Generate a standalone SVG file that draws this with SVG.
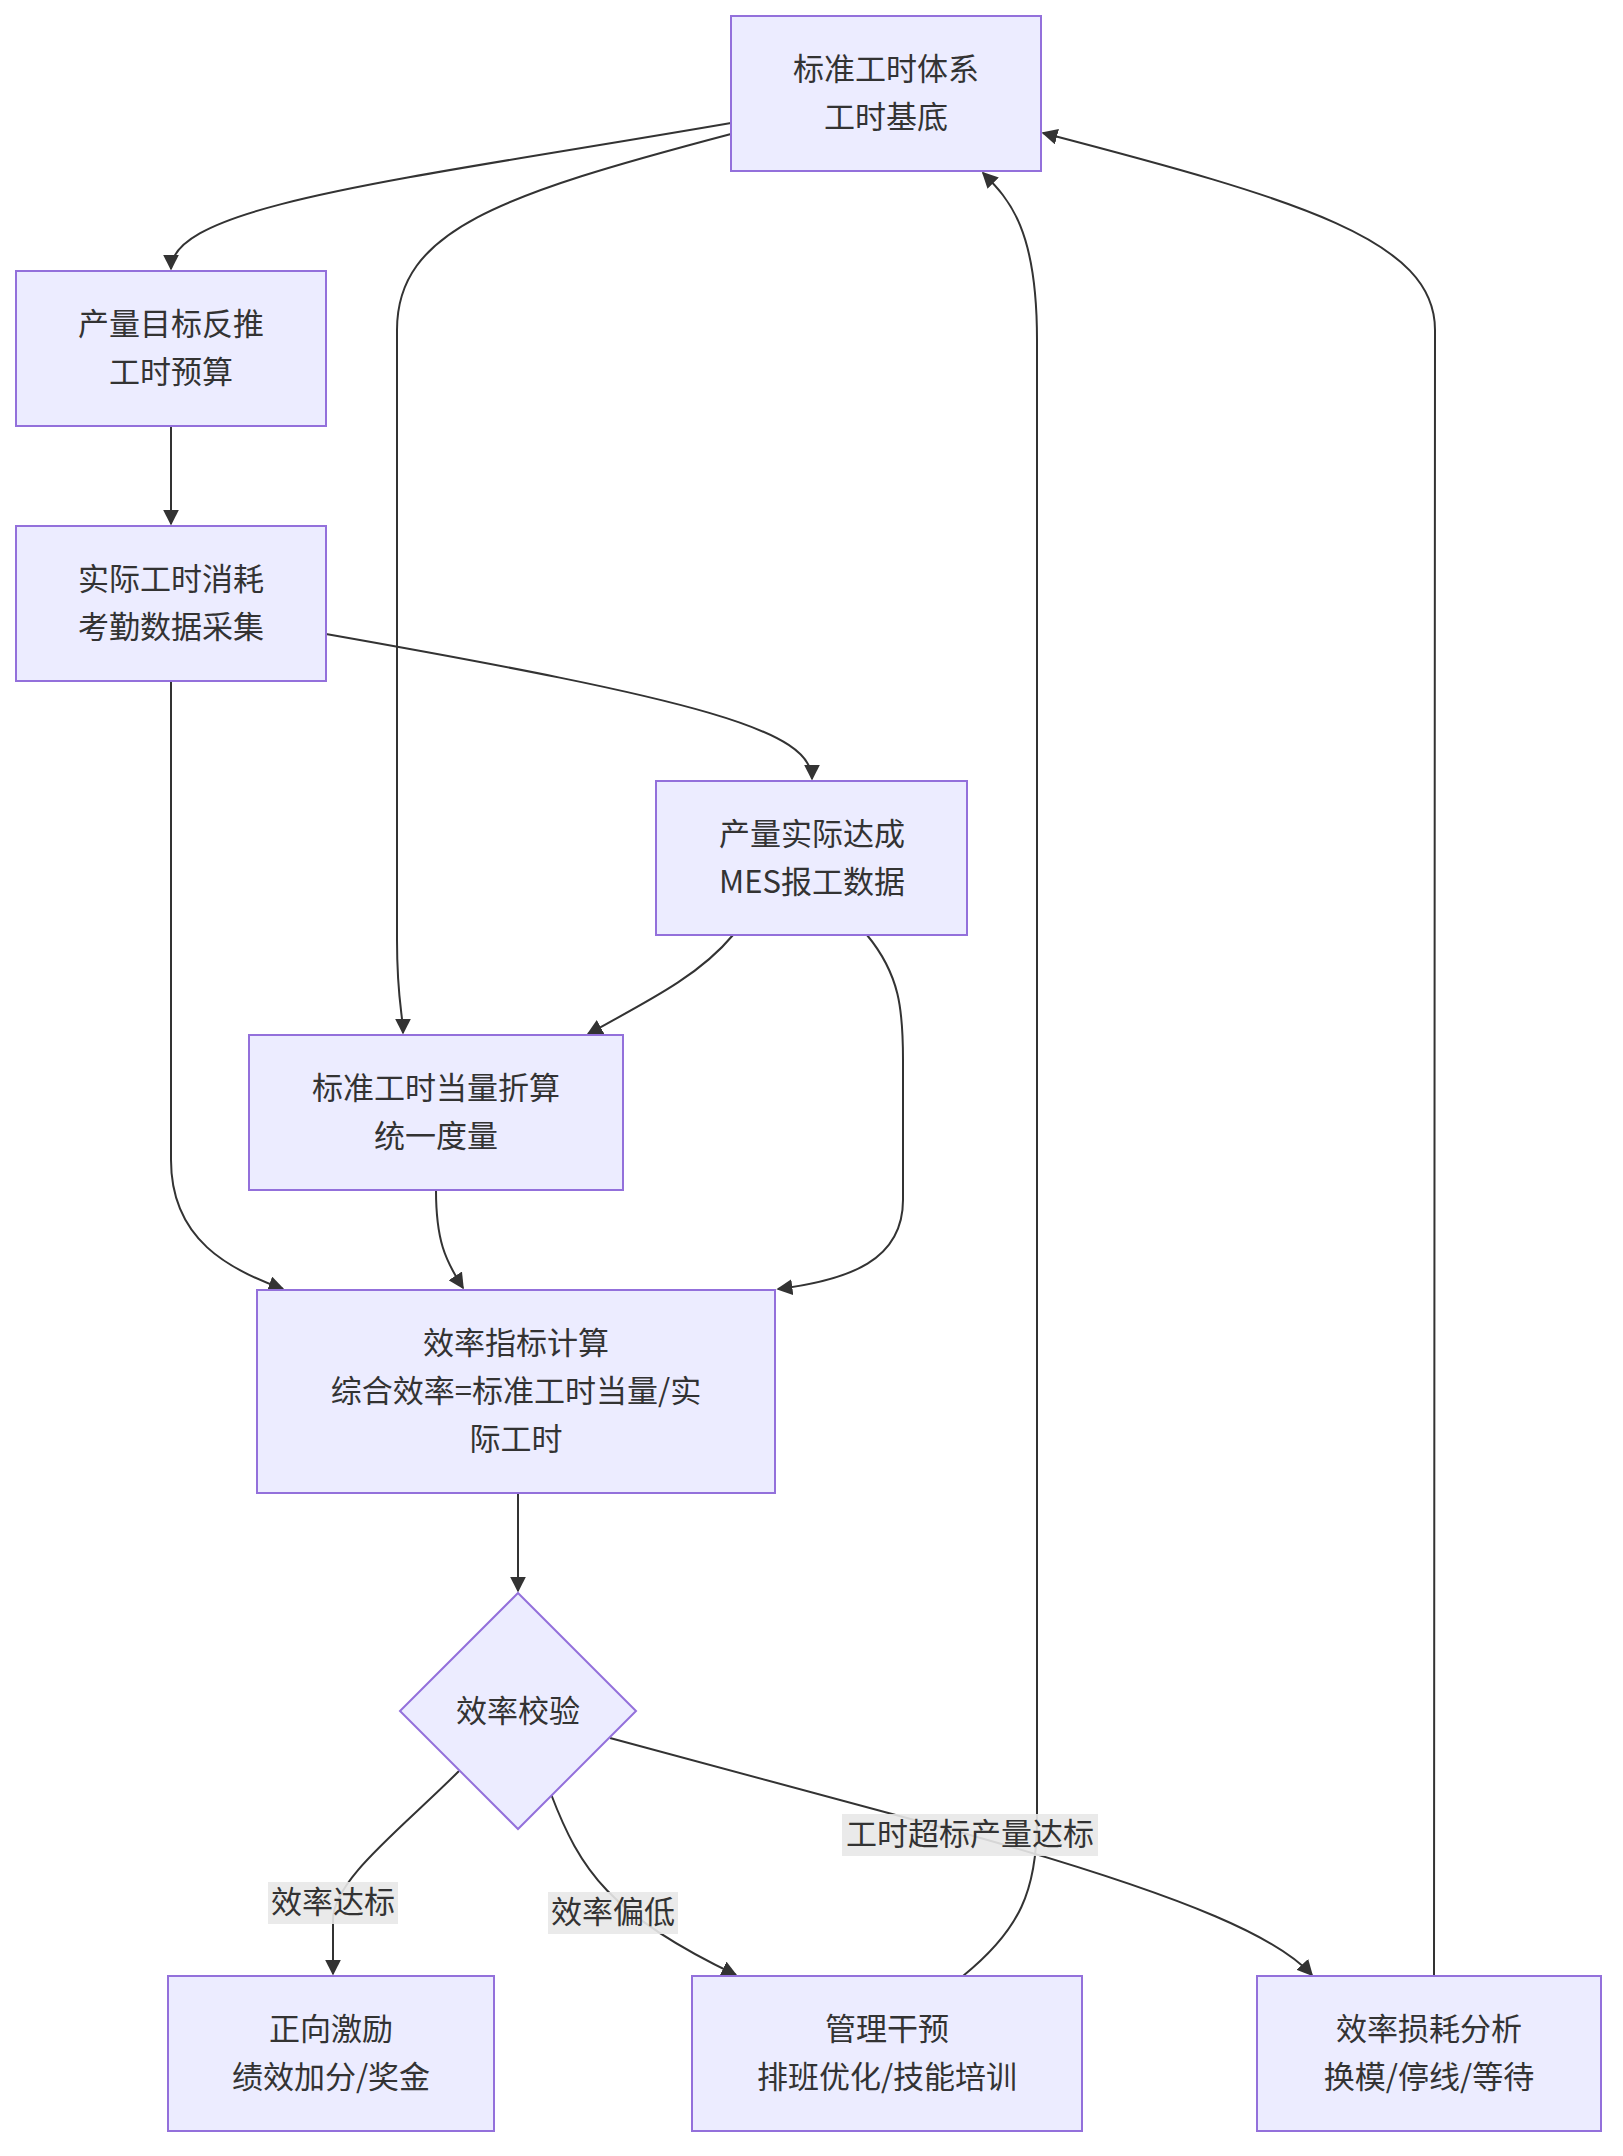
<svg xmlns="http://www.w3.org/2000/svg" width="1623" height="2156" viewBox="0 0 1623 2156">
<style>
.n{fill:#ECECFF;stroke:#9370DB;stroke-width:2}
.t{font-family:"Noto Sans CJK SC","Liberation Sans",sans-serif;font-size:31px;fill:#333;text-anchor:middle}
.e{fill:none;stroke:#333;stroke-width:2;marker-end:url(#a)}
.lb{fill:#e8e8e8;opacity:0.9}
</style>
<defs><marker id="a" viewBox="0 0 10 10" refX="9" refY="5" markerWidth="8" markerHeight="8" orient="auto"><path d="M0,0L10,5L0,10z" fill="#333"/></marker></defs>
<rect width="1623" height="2156" fill="#fff"/>
<g id="edges">
<path class="e" d="M731,123 C400,180 171,205 171,269"/>
<path class="e" d="M731,134 C500,195 397,230 397,330 L397,940 C397,1000 403,1015 403,1033"/>
<path class="e" d="M171,426 L171,524"/>
<path class="e" d="M326,634 C700,700 812,730 812,779"/>
<path class="e" d="M171,681 L171,1160 C171,1240 230,1270 283,1289"/>
<path class="e" d="M733,935 C700,975 650,1000 588,1034"/>
<path class="e" d="M867,935 C900,975 903,1010 903,1060 L903,1200 C903,1260 850,1280 778,1289"/>
<path class="e" d="M436,1190 C436,1240 445,1260 463,1288"/>
<path class="e" d="M518,1493 L518,1591"/>
<path class="e" d="M459,1771 C400,1830 333,1880 333,1920 L333,1974"/>
<path class="e" d="M551,1794 C580,1870 610,1915 736,1975"/>
<path class="e" d="M610,1738 L970,1835 C1200,1900 1280,1940 1312,1975"/>
<path class="e" d="M963,1976 C1020,1930 1037,1890 1037,1820 L1037,340 C1037,230 1010,200 983,173"/>
<path class="e" d="M1434,1976 L1435,330 C1435,240 1300,200 1043,133"/>
</g>
<g id="labels">
<rect class="lb" x="268" y="1882" width="130" height="42"/><text class="t" x="333" y="1913">效率达标</text>
<rect class="lb" x="548" y="1892" width="130" height="42"/><text class="t" x="613" y="1923">效率偏低</text>
<rect class="lb" x="842" y="1814" width="256" height="42"/><text class="t" x="970" y="1845">工时超标产量达标</text>
</g>
<g id="n1"><rect class="n" x="731" y="16" width="310" height="155"/><text class="t" x="886" y="80">标准工时体系</text><text class="t" x="886" y="128">工时基底</text></g>
<g id="n2"><rect class="n" x="16" y="271" width="310" height="155"/><text class="t" x="171" y="335">产量目标反推</text><text class="t" x="171" y="383">工时预算</text></g>
<g id="n3"><rect class="n" x="16" y="526" width="310" height="155"/><text class="t" x="171" y="590">实际工时消耗</text><text class="t" x="171" y="638">考勤数据采集</text></g>
<g id="n4"><rect class="n" x="656" y="781" width="311" height="154"/><text class="t" x="812" y="845">产量实际达成</text><text class="t" x="812" y="893">MES报工数据</text></g>
<g id="n5"><rect class="n" x="249" y="1035" width="374" height="155"/><text class="t" x="436" y="1099">标准工时当量折算</text><text class="t" x="436" y="1147">统一度量</text></g>
<g id="n6"><rect class="n" x="257" y="1290" width="518" height="203"/><text class="t" x="516" y="1354">效率指标计算</text><text class="t" x="516" y="1402">综合效率=标准工时当量/实</text><text class="t" x="516" y="1450">际工时</text></g>
<g id="n7"><path class="n" d="M518,1593 L636,1711 L518,1829 L400,1711 Z"/><text class="t" x="518" y="1722">效率校验</text></g>
<g id="n8"><rect class="n" x="168" y="1976" width="326" height="155"/><text class="t" x="331" y="2040">正向激励</text><text class="t" x="331" y="2088">绩效加分/奖金</text></g>
<g id="n9"><rect class="n" x="692" y="1976" width="390" height="155"/><text class="t" x="887" y="2040">管理干预</text><text class="t" x="887" y="2088">排班优化/技能培训</text></g>
<g id="n10"><rect class="n" x="1257" y="1976" width="344" height="155"/><text class="t" x="1429" y="2040">效率损耗分析</text><text class="t" x="1429" y="2088">换模/停线/等待</text></g>
</svg>
